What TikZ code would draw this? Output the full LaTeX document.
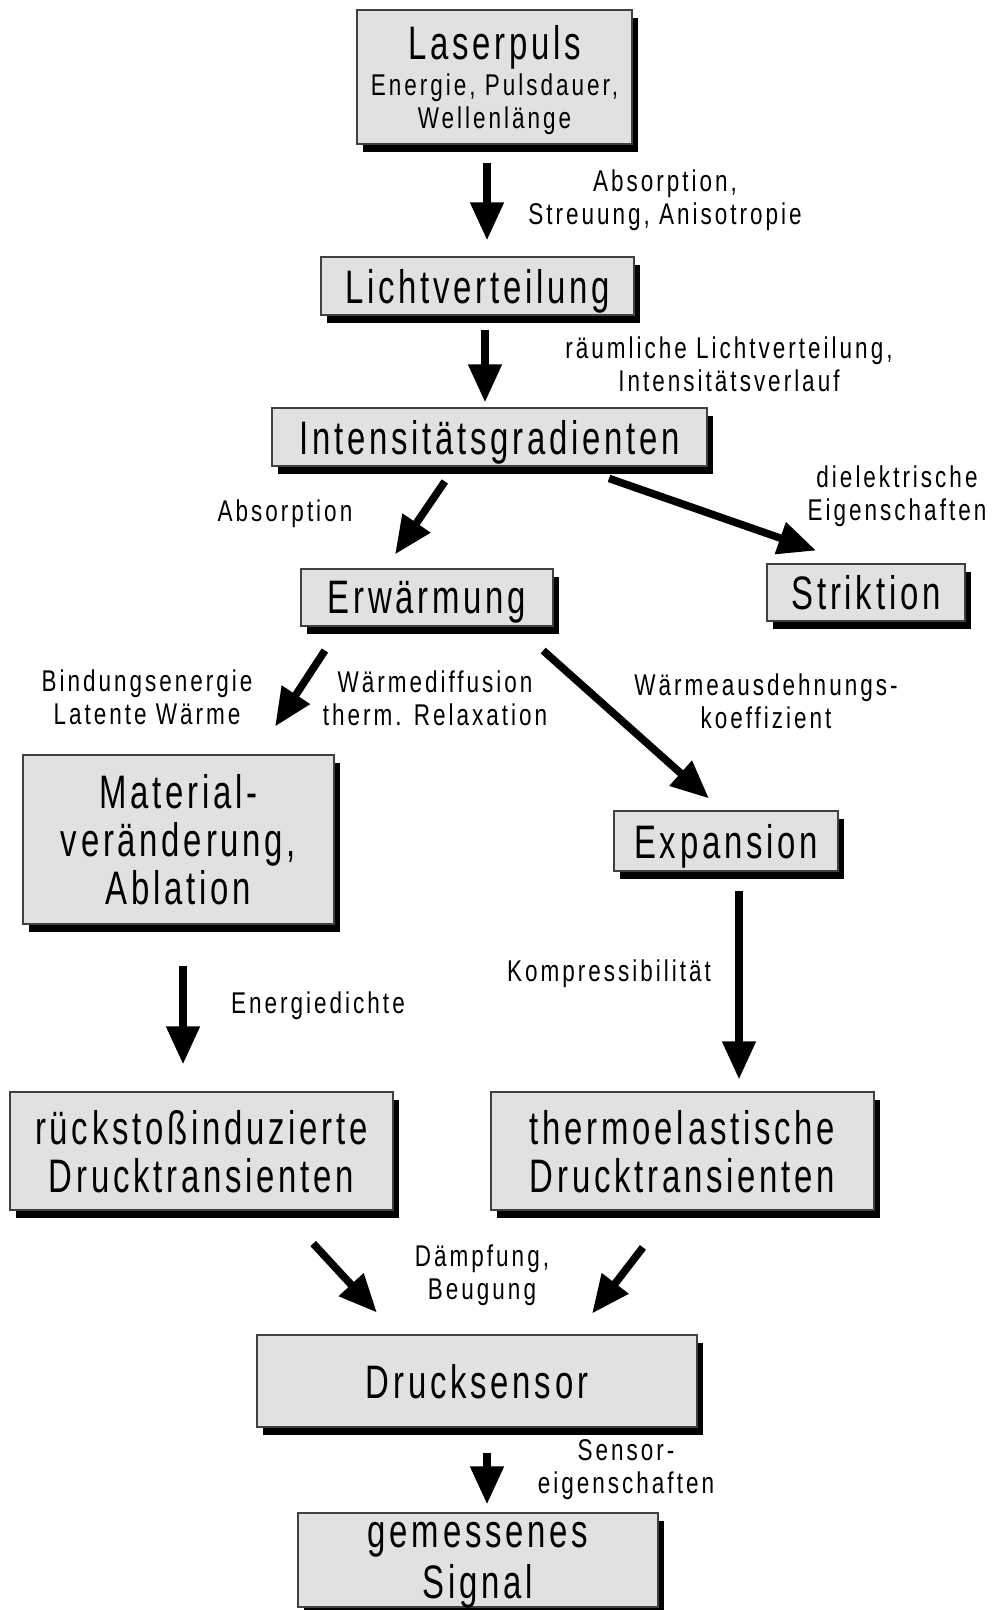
\documentclass[tikz,border=0pt]{standalone}
\usepackage{fontspec}
\setmainfont{Liberation Sans}
\newfontfamily\boxfont{Liberation Sans}[FakeStretch=0.70,LetterSpace=8]
\newfontfamily\labelfont{Liberation Sans}[FakeStretch=0.75,LetterSpace=10]
\usepackage{tikz}
\usetikzlibrary{positioning,arrows.meta,calc,shadows}
\definecolor{boxgray}{RGB}{225,225,225}
\newcommand{\bigfs}{\boxfont\fontsize{23.5}{24}\selectfont}
\newcommand{\smallfs}{\labelfont\fontsize{15}{16.5}\selectfont}
\tikzset{
    box/.style={rectangle, draw=black!75, line width=0.6pt, fill=boxgray, align=center, inner sep=0pt, font=\bigfs,
        text depth=0pt, drop shadow={shadow xshift=3pt, shadow yshift=-4pt, fill=black, opacity=1}},
    flow arrow/.style={-{Triangle[length=19pt,width=16pt]}, line width=3.8pt},
    edge label/.style={font=\smallfs, align=center, inner sep=0pt}
}

\begin{document}
\begin{tikzpicture}[x=0.5pt, y={(0,-0.5pt)}]
    \useasboundingbox (0,0) rectangle (994,1610);

    % Boxes - top chain
    \node[box, minimum width=137.5pt, minimum height=67pt] (laserpuls) at (494.5,77)
        {Laserpuls\\[-6pt]{\smallfs Energie, Pulsdauer,}\\[-7.5pt]{\smallfs Wellenlänge}};
    \node[box, minimum width=156.5pt, minimum height=29pt] (licht) at (477.5,286) {Lichtverteilung};
    \node[box, minimum width=217.5pt, minimum height=29pt] (intens) at (489.5,437) {Intensitätsgradienten};
    \node[box, minimum width=126pt, minimum height=28.5pt] (erw) at (427,597.5) {Erwärmung};
    \node[box, minimum width=99pt, minimum height=28.5pt] (strikt) at (866,592.5) {Striktion};

    % Boxes - two branches
    \node[box, minimum width=155.5pt, minimum height=84.5pt] (material) at (178.5,839.5) {Material-\\veränderung,\\Ablation};
    \node[box, minimum width=112pt, minimum height=30pt] (expansion) at (726,841) {Expansion};
    \node[box, minimum width=191.5pt, minimum height=59pt] (rueck) at (201.5,1151) {rückstoßinduzierte\\Drucktransienten};
    \node[box, minimum width=191.5pt, minimum height=59pt] (thermo) at (682.5,1151) {thermoelastische\\Drucktransienten};

    % Boxes - sensor and signal
    \node[box, minimum width=220pt, minimum height=46pt] (sensor) at (477,1381) {Drucksensor};
    \node[box, minimum width=180pt, minimum height=47pt] (signal) at (478,1560) {gemessenes\\[1.5pt]Signal};

    % Arrows
    \draw[flow arrow, shorten <=9pt, shorten >=8pt] ($(laserpuls.south)+(-7.5,0)$) -- ($(licht.north)+(9.5,0)$);
    \draw[flow arrow, shorten <=7pt, shorten >=2.5pt] ($(licht.south)+(7.5,0)$) -- ($(intens.north)+(-4.5,0)$);
    \draw[flow arrow, shorten <=9pt, shorten >=8.5pt] ($(intens.south)+(-34.5,0)$) -- ($(erw.north)+(-41.5,0)$);
    \draw[flow arrow, shorten <=18pt, shorten >=19.5pt] ($(intens.south)+(85.5,0)$) -- ($(strikt.north)+(-13,0)$);
    \draw[flow arrow, shorten <=14.3pt, shorten >=16.7pt] ($(erw.south)+(-86.4,0)$) -- ($(material.north)+(78.3,0)$);
    \draw[flow arrow, shorten <=18pt, shorten >=9pt] ($(erw.south)+(89.3,0)$) -- ($(expansion.north)+(-3.6,0)$);
    \draw[flow arrow, shorten <=20.5pt, shorten >=13.5pt] ($(material.south)+(4.5,0)$) -- ($(rueck.north)+(-18.5,0)$);
    \draw[flow arrow, shorten <=9.5pt, shorten >=6pt] ($(expansion.south)+(13,0)$) -- ($(thermo.north)+(56.5,0)$);
    \draw[flow arrow, shorten <=22.4pt, shorten >=14.9pt] ($(rueck.south)+(81.3,0)$) -- ($(sensor.north)+(-79.9,0)$);
    \draw[flow arrow, shorten <=23.2pt, shorten >=13.2pt] ($(thermo.south)+(-11.3,0)$) -- ($(sensor.north)+(99,0)$);
    \draw[flow arrow, shorten <=12.5pt, shorten >=4pt] ($(sensor.south)+(10,0)$) -- ($(signal.north)+(9,0)$);

    % Labels
    \node[edge label] (lscatter) at (665,200) {Absorption,\\Streuung, Anisotropie};
    \node[edge label] (lspatial) at (729,364) {räumliche Lichtverteilung,\\Intensitätsverlauf};
    \node[edge label] (labsorb) at (285,514) {Absorption};
    \node[edge label] (ldielec) at (897,496) {dielektrische\\Eigenschaften};
    \node[edge label] (lbind) at (147,697) {Bindungsenergie\\Latente Wärme};
    \node[edge label] (ldiff) at (435,698) {Wärmediffusion\\therm. Relaxation};
    \node[edge label] (lexpand) at (766,701) {Wärmeausdehnungs-\\koeffizient};
    \node[edge label] (lcompr) at (609,974) {Kompressibilität};
    \node[edge label] (lenergy) at (318,1006) {Energiedichte};
    \node[edge label] (ldamp) at (482,1275) {Dämpfung,\\Beugung};
    \node[edge label] (lsensor) at (626,1470) {Sensor-\\eigenschaften};
\end{tikzpicture}
\end{document}
